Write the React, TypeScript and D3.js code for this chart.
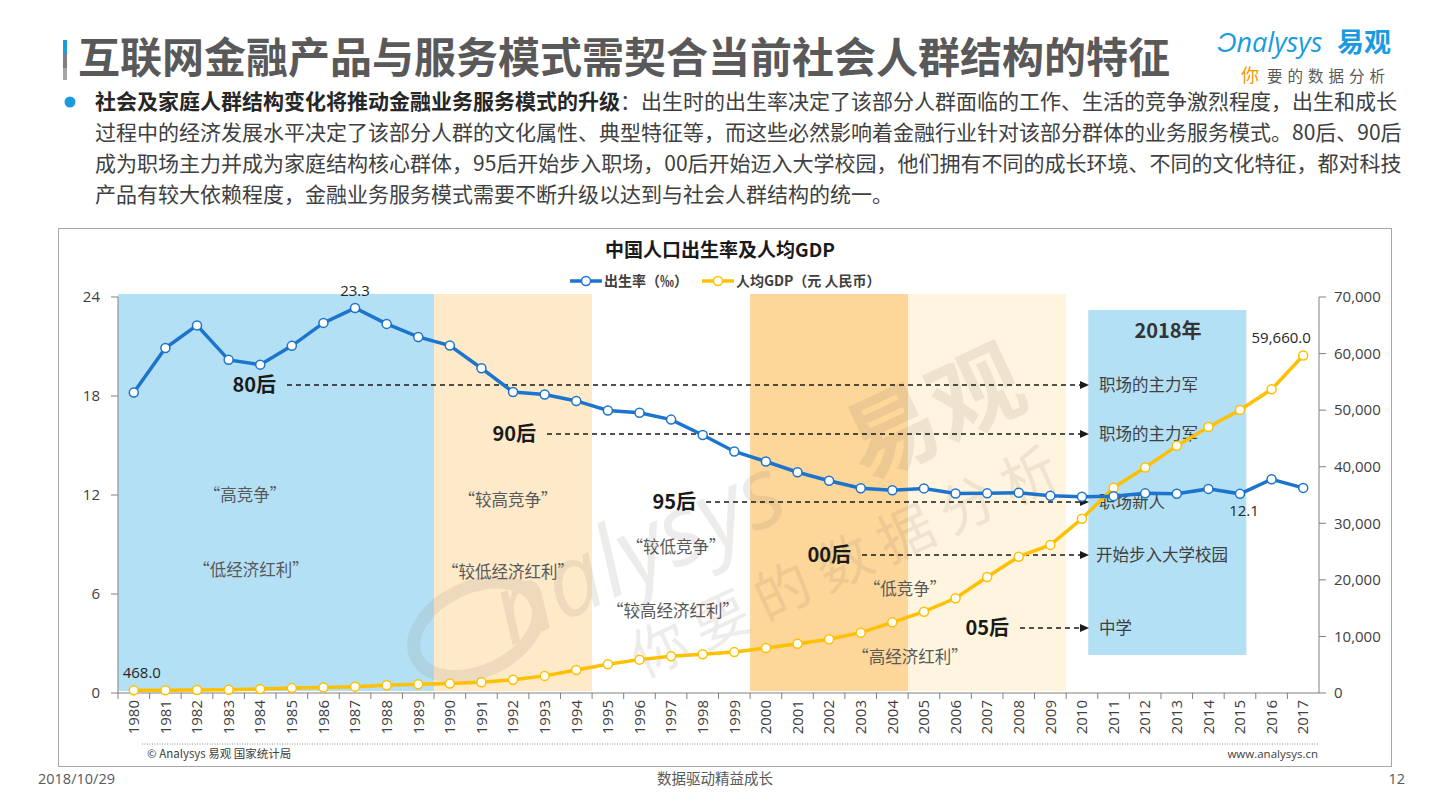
import React from 'react';
import * as d3 from 'd3';

// categories
const years = [
  '1980', '1981', '1982', '1983', '1984', '1985', '1986', '1987', '1988', '1989',
  '1990', '1991', '1992', '1993', '1994', '1995', '1996', '1997', '1998', '1999',
  '2000', '2001', '2002', '2003', '2004', '2005', '2006', '2007', '2008', '2009',
  '2010', '2011', '2012', '2013', '2014', '2015', '2016', '2017',
];

// 出生率 (‰)
const birthRate = [
  18.21, 20.91, 22.28, 20.19, 19.9, 21.04, 22.43, 23.33, 22.37, 21.58,
  21.06, 19.68, 18.24, 18.09, 17.7, 17.12, 16.98, 16.57, 15.64, 14.64,
  14.03, 13.38, 12.86, 12.41, 12.29, 12.4, 12.09, 12.1, 12.14, 11.95,
  11.9, 11.93, 12.1, 12.08, 12.37, 12.07, 12.95, 12.43,
];

// 人均GDP (元)
const gdpPerCapita = [
  468, 497, 533, 588, 702, 866, 973, 1123, 1378, 1536,
  1663, 1912, 2334, 3027, 4081, 5091, 5898, 6481, 6860, 7229,
  7942, 8717, 9506, 10666, 12487, 14368, 16738, 20494, 24100, 26180,
  30808, 36302, 39874, 43684, 47005, 50028, 53680, 59660,
];

const leftTicks = [0, 6, 12, 18, 24];
const rightTicks = [0, 10000, 20000, 30000, 40000, 50000, 60000, 70000];

// shaded periods
const periods = [
  { from: '1980', to: '1989', color: '#b4e0f6' },
  { from: '1990', to: '1994', color: '#fee9c9' },
  { from: '2000', to: '2004', color: '#fdd699' },
  { from: '2005', to: '2009', color: '#fff5de' },
];

const periodLabels = [
  { text: '“高竞争”', x: 245, y: 495 },
  { text: '“低经济红利”', x: 251, y: 570 },
  { text: '“较高竞争”', x: 508, y: 500 },
  { text: '“较低经济红利”', x: 508, y: 572 },
  { text: '“较低竞争”', x: 676, y: 547 },
  { text: '“较高经济红利”', x: 673, y: 611 },
  { text: '“低竞争”', x: 905, y: 589 },
  { text: '“高经济红利”', x: 910, y: 657 },
];

const generations = [
  { gen: '80后', role: '职场的主力军', labelEnd: 276, lineStart: 287, y: 385 },
  { gen: '90后', role: '职场的主力军', labelEnd: 536, lineStart: 547, y: 434 },
  { gen: '95后', role: '职场新人', labelEnd: 696, lineStart: 706, y: 502 },
  { gen: '00后', role: '开始步入大学校园', labelEnd: 851, lineStart: 862, y: 555 },
  { gen: '05后', role: '中学', labelEnd: 1009, lineStart: 1020, y: 628 },
];

const paragraph = [
  '过程中的经济发展水平决定了该部分人群的文化属性、典型特征等，而这些必然影响着金融行业针对该部分群体的业务服务模式。80后、90后',
  '成为职场主力并成为家庭结构核心群体，95后开始步入职场，00后开始迈入大学校园，他们拥有不同的成长环境、不同的文化特征，都对科技',
  '产品有较大依赖程度，金融业务服务模式需要不断升级以达到与社会人群结构的统一。',
];

const BLUE = '#1c74cc';
const YELLOW = '#ffc000';
const FONT = '"Noto Sans CJK SC", "Noto Sans", sans-serif';
const NUM = '"Open Sans", "Noto Sans CJK SC", sans-serif';

const App = () => {
  const x = d3.scaleBand<string>().domain(years).range([118, 1319]);
  const bw = x.bandwidth();
  const cx = (y: string) => (x(y) as number) + bw / 2;
  const yL = d3.scaleLinear().domain([0, 24]).range([693, 297]);
  const yR = d3.scaleLinear().domain([0, 70000]).range([693, 297]);

  const birthLine = d3
    .line<number>()
    .x((d, i) => cx(years[i]))
    .y(d => yL(d));
  const gdpLine = d3
    .line<number>()
    .x((d, i) => cx(years[i]))
    .y(d => yR(d));

  const fmt = d3.format(',');
  const fmt1 = d3.format(',.1f');

  const boxX0 = (x('2010') as number) + bw * 0.7;
  const boxX1 = (x('2015') as number) + bw * 0.7;

  return (
    <svg
      width={1440}
      height={810}
      style={{ position: 'absolute', left: 0, top: 0, background: '#fff' }}
      fontFamily={FONT}
    >
      {/* header */}
      <rect x={63} y={40} width={4} height={14} fill="#1a9be0" />
      <rect x={63} y={54} width={4} height={14} fill="#7f7f7f" />
      <rect x={63} y={68} width={4} height={12} fill="#a6a6a6" />
      <text x={78} y={73} fontSize={42} fontWeight="bold" fill="#595959">
        互联网金融产品与服务模式需契合当前社会人群结构的特征
      </text>
      <text x={1217} y={52} fontSize={27} fill="#1a9be0" fontStyle="italic" fontFamily='"Open Sans", sans-serif'>
        Ɔnalysys
      </text>
      <text x={1337} y={52} fontSize={27} fill="#1a9be0" fontWeight="bold">易观</text>
      <text x={1241} y={82} fontSize={18} fill="#f39800">你</text>
      <text x={1267} y={82} fontSize={15.5} fill="#595959" letterSpacing={5}>要的数据分析</text>

      {/* paragraph */}
      <circle cx={70} cy={102} r={5.5} fill="#1a9be0" />
      <text x={95} y={109} fontSize={21} fill="#404040">
        <tspan fontWeight="bold" fill="#262626">社会及家庭人群结构变化将推动金融业务服务模式的升级</tspan>
        <tspan>：出生时的出生率决定了该部分人群面临的工作、生活的竞争激烈程度，出生和成长</tspan>
      </text>
      {paragraph.map((t, i) => (
        <text key={i} x={95} y={140 + i * 31} fontSize={21} fill="#404040">
          {t}
        </text>
      ))}

      {/* chart frame */}
      <rect x={58.5} y={228.5} width={1333} height={538} fill="none" stroke="#a6a6a6" />

      {/* bands */}
      {periods.map(p => (
        <rect
          key={p.from}
          x={x(p.from)}
          y={yL(24) - 3}
          width={(x(p.to) as number) + bw - (x(p.from) as number)}
          height={yL(0) - yL(24) + 1}
          fill={p.color}
        />
      ))}
      <rect x={boxX0} y={310} width={boxX1 - boxX0} height={345} fill="#b4e0f6" />

      {/* watermark */}
      <g transform="translate(670,572) rotate(-25)" fill="#8a8070" opacity={0.14}>
        <ellipse cx={-200} cy={-30} rx={66} ry={42} fill="none" stroke="#8a8070" strokeWidth={13} />
        <text x={-176} y={0} fontSize={98} fontStyle="italic" fontFamily='"Open Sans", sans-serif'>
          nalysys
        </text>
        <text x={215} y={0} fontSize={92} fontWeight="bold">易观</text>
        <text x={-70} y={85} fontSize={56} letterSpacing={12}>你要的数据分析</text>
      </g>

      {/* period labels */}
      {periodLabels.map(l => (
        <text key={l.text} x={l.x} y={l.y} dy="0.35em" textAnchor="middle" fontSize={16.5} fill="#595959">
          {l.text}
        </text>
      ))}

      {/* generation annotations */}
      {generations.map(g => (
        <g key={g.gen}>
          <text x={g.labelEnd} y={g.y} dy="0.35em" textAnchor="end" fontSize={20} fontWeight="bold" fill="#1a1a1a">
            {g.gen}
          </text>
          <line x1={g.lineStart} x2={1082} y1={g.y} y2={g.y} stroke="#1a1a1a" strokeWidth={1.3} strokeDasharray="5,4" />
          <path d={`M1080,${g.y - 4}L1089,${g.y}L1080,${g.y + 4}Z`} fill="#1a1a1a" />
        </g>
      ))}
      {generations.map(g => (
        <text key={g.gen + 'r'} x={g.role.length > 6 ? 1096 : 1099} y={g.y} dy="0.35em" fontSize={16.5} fill="#404040">
          {g.role}
        </text>
      ))}
      <text x={1168} y={331} dy="0.35em" textAnchor="middle" fontSize={20} fontWeight="bold" fill="#333">
        2018年
      </text>

      {/* axes */}
      <line x1={118} x2={118} y1={297} y2={693} stroke="#808080" />
      {leftTicks.map(t => (
        <g key={t}>
          <line x1={111} x2={118} y1={yL(t)} y2={yL(t)} stroke="#808080" />
          <text x={100} y={yL(t)} dy="0.35em" textAnchor="end" fontSize={15} fill="#404040" fontFamily={NUM}>
            {t}
          </text>
        </g>
      ))}
      <line x1={1319} x2={1319} y1={297} y2={693} stroke="#808080" />
      {rightTicks.map(t => (
        <g key={t}>
          <line x1={1319} x2={1326} y1={yR(t)} y2={yR(t)} stroke="#808080" />
          <text x={1334} y={yR(t)} dy="0.35em" fontSize={15} fill="#404040" fontFamily={NUM}>
            {fmt(t)}
          </text>
        </g>
      ))}
      {years.map(y => (
        <g key={y}>
          <line x1={x(y)} x2={x(y)} y1={693} y2={699} stroke="#808080" />
          <text
            transform={`translate(${cx(y)},700) rotate(-90)`}
            dy="0.35em"
            textAnchor="end"
            fontSize={15}
            fill="#404040"
            fontFamily={NUM}
          >
            {y}
          </text>
        </g>
      ))}
      <line x1={118} x2={1319} y1={693} y2={693} stroke="#808080" />

      {/* series */}
      <path d={gdpLine(gdpPerCapita) || ''} fill="none" stroke={YELLOW} strokeWidth={3.5} />
      {gdpPerCapita.map((v, i) => (
        <circle key={i} cx={cx(years[i])} cy={yR(v)} r={4.5} fill="#fff" stroke={YELLOW} strokeWidth={1.5} />
      ))}
      <path d={birthLine(birthRate) || ''} fill="none" stroke={BLUE} strokeWidth={3.5} />
      {birthRate.map((v, i) => (
        <circle key={i} cx={cx(years[i])} cy={yL(v)} r={4.5} fill="#fff" stroke={BLUE} strokeWidth={1.5} />
      ))}

      {/* data labels */}
      <text x={cx('1987')} y={yL(birthRate[7]) - 12} textAnchor="middle" fontSize={15} fill="#262626" fontFamily={NUM}>
        {birthRate[7].toFixed(1)}
      </text>
      <text x={cx('1980') + 8} y={yR(gdpPerCapita[0]) - 12} textAnchor="middle" fontSize={15} fill="#262626" fontFamily={NUM}>
        {fmt1(gdpPerCapita[0])}
      </text>
      <text x={cx('2017') - 22} y={yR(gdpPerCapita[37]) - 12} textAnchor="middle" fontSize={15} fill="#262626" fontFamily={NUM}>
        {fmt1(gdpPerCapita[37])}
      </text>
      <text x={cx('2015') + 4} y={yL(birthRate[35]) + 22} textAnchor="middle" fontSize={15} fill="#262626" fontFamily={NUM}>
        {birthRate[35].toFixed(1)}
      </text>

      {/* title & legend */}
      <text x={720} y={250} dy="0.35em" textAnchor="middle" fontSize={19} fontWeight="bold" fill="#1a1a1a">
        中国人口出生率及人均GDP
      </text>
      <g fontSize={14} fontWeight="bold" fill="#404040">
        <line x1={570} x2={602} y1={281} y2={281} stroke={BLUE} strokeWidth={3.5} />
        <circle cx={586} cy={281} r={4.5} fill="#fff" stroke={BLUE} strokeWidth={1.5} />
        <text x={604} y={281} dy="0.35em">出生率（‰）</text>
        <line x1={702} x2={734} y1={281} y2={281} stroke={YELLOW} strokeWidth={3.5} />
        <circle cx={718} cy={281} r={4.5} fill="#fff" stroke={YELLOW} strokeWidth={1.5} />
        <text x={736} y={281} dy="0.35em">人均GDP（元 人民币）</text>
      </g>

      {/* source */}
      <line x1={142} x2={1318} y1={744} y2={744} stroke="#8c8c8c" strokeDasharray="1,1.5" />
      <text x={147} y={758} fontSize={11.5} fill="#404040">© Analysys 易观 国家统计局</text>
      <text x={1318} y={758} textAnchor="end" fontSize={11.5} fill="#404040" fontFamily={NUM}>www.analysys.cn</text>

      {/* footer */}
      <text x={38} y={784} fontSize={14.5} fill="#595959" fontFamily={NUM}>2018/10/29</text>
      <text x={715} y={784} textAnchor="middle" fontSize={14.5} fill="#595959">数据驱动精益成长</text>
      <text x={1405} y={784} textAnchor="end" fontSize={14.5} fill="#595959" fontFamily={NUM}>12</text>
    </svg>
  );
};

export default App;
